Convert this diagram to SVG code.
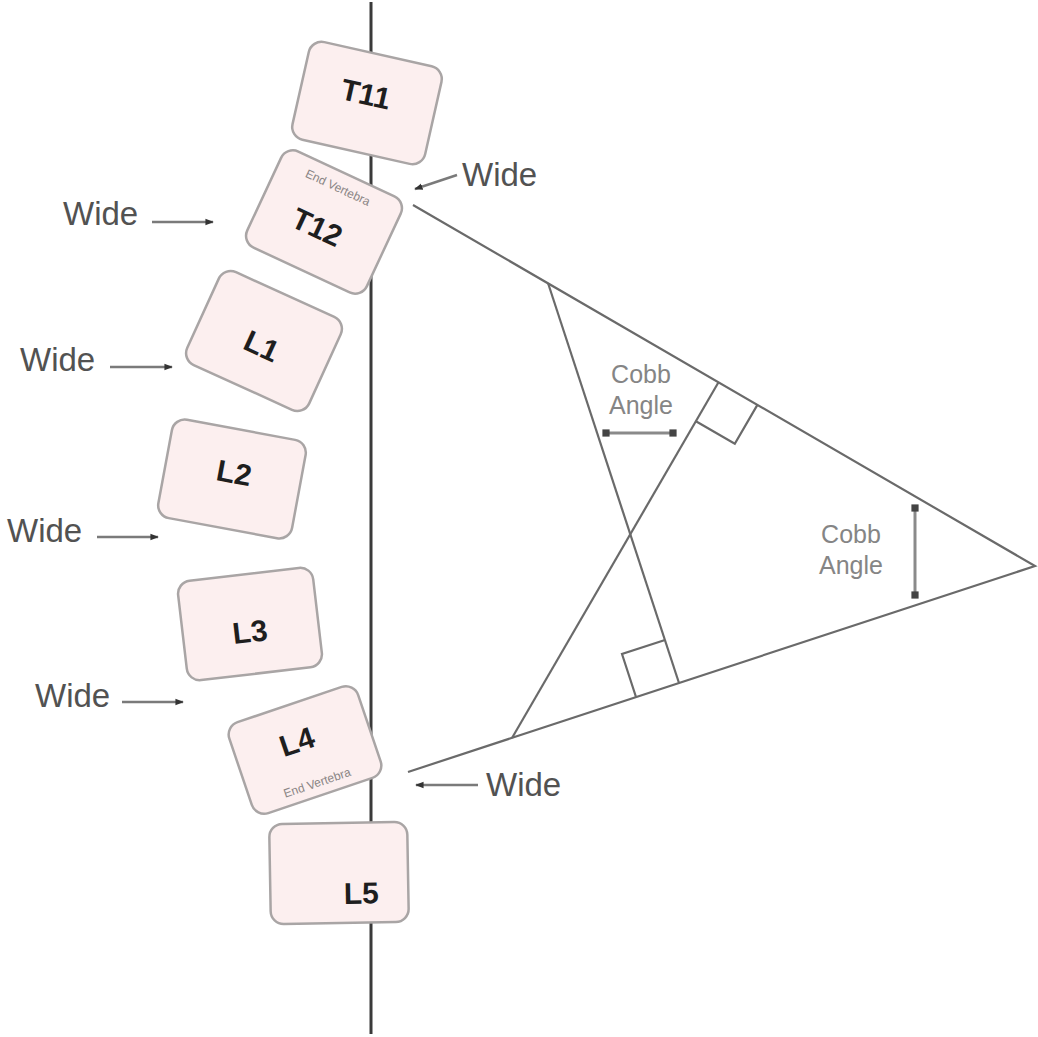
<svg xmlns="http://www.w3.org/2000/svg" width="1038" height="1037" viewBox="0 0 1038 1037">
  <style>
    .bone { fill: #fcefef; stroke: #a9a5a5; stroke-width: 2.5; }
    .lbl { font-family: "Liberation Sans", Arial, sans-serif; font-size: 30px; font-weight: bold; fill: #1e1e1e; text-anchor: middle; }
    .ev { font-family: "Liberation Sans", Arial, sans-serif; font-size: 12px; fill: #8a8585; text-anchor: middle; }
    .wide { font-family: "Liberation Sans", Arial, sans-serif; font-size: 33px; fill: #525252; }
    .cobb { font-family: "Liberation Sans", Arial, sans-serif; font-size: 25px; fill: #858585; text-anchor: middle; }
    .geo { stroke: #6a6a6a; stroke-width: 2.2; fill: none; }
    .ptr { stroke: #7a7a7a; stroke-width: 2.4; fill: none; marker-end: url(#head); }
    .dbl { stroke: #8a8a8a; stroke-width: 3; fill: none; marker-start: url(#tick); marker-end: url(#tick); }
  </style>
  <defs>
    <marker id="head" viewBox="0 0 10 10" refX="9" refY="5" markerWidth="3.5" markerHeight="3.5" orient="auto" markerUnits="strokeWidth">
      <path d="M0,1 L10,5 L0,9 Z" fill="#333"/>
    </marker>
    <marker id="tick" viewBox="0 0 10 10" refX="5" refY="5" markerWidth="2.4" markerHeight="3" orient="auto" markerUnits="strokeWidth">
      <rect x="0" y="0" width="10" height="10" fill="#444"/>
    </marker>
  </defs>

  <rect width="1038" height="1037" fill="#ffffff"/>

  <!-- spine axis -->
  <line x1="371" y1="2" x2="371" y2="1034" stroke="#3a3a3a" stroke-width="3"/>

  <!-- vertebrae -->
  <g id="t11" transform="translate(367,103) rotate(12.7)">
    <rect class="bone" x="-68" y="-50" width="136" height="100" rx="13"/>
    <text class="lbl" x="-3" y="2">T11</text>
  </g>
  <g id="t12" transform="translate(324,222) rotate(25)">
    <rect class="bone" x="-66" y="-53" width="132" height="106" rx="13"/>
    <text class="ev" x="-2" y="-33">End Vertebra</text>
    <text class="lbl" x="-4" y="18">T12</text>
  </g>
  <g id="l1" transform="translate(264,341) rotate(24.5)">
    <rect class="bone" x="-67" y="-51" width="134" height="102" rx="13"/>
    <text class="lbl" x="0" y="16">L1</text>
  </g>
  <g id="l2" transform="translate(232,479) rotate(10.5)">
    <rect class="bone" x="-68" y="-50" width="136" height="100" rx="13"/>
    <text class="lbl" x="1" y="4">L2</text>
  </g>
  <g id="l3" transform="translate(250,624) rotate(-6.7)">
    <rect class="bone" x="-68" y="-50" width="136" height="100" rx="13"/>
    <text class="lbl" x="-1" y="18">L3</text>
  </g>
  <g id="l4" transform="translate(305,750) rotate(-18.7)">
    <rect class="bone" x="-68" y="-48" width="136" height="96" rx="13"/>
    <text class="lbl" x="-5" y="0">L4</text>
    <text class="ev" x="1" y="39">End Vertebra</text>
  </g>
  <g id="l5" transform="translate(339,873) rotate(-1)">
    <rect class="bone" x="-69" y="-50" width="138" height="100" rx="13"/>
    <text class="lbl" x="22" y="31">L5</text>
  </g>

  <!-- end-plate lines, perpendiculars and right-angle marks -->
  <g id="connectors">
    <polyline class="geo" points="413,205 1035,566 408,772"/>
    <line class="geo" x1="548" y1="283" x2="679" y2="683"/>
    <line class="geo" x1="512" y1="738" x2="718.5" y2="382.3"/>
    <polyline class="geo" points="636,697 622,654 665,640"/>
    <polyline class="geo" points="757.4,404.9 734.8,443.8 695.9,421.2"/>

    <!-- angle indicators -->
    <line class="dbl" x1="606" y1="433" x2="673" y2="433"/>
    <line class="dbl" x1="915" y1="508" x2="915" y2="595"/>

    <!-- width pointers -->
    <line class="ptr" x1="152" y1="222" x2="213" y2="222"/>
    <line class="ptr" x1="110" y1="367" x2="172" y2="367"/>
    <line class="ptr" x1="97" y1="537" x2="158" y2="537"/>
    <line class="ptr" x1="122" y1="702" x2="183" y2="702"/>
    <line class="ptr" x1="457" y1="175" x2="415" y2="189"/>
    <line class="ptr" x1="478" y1="785" x2="416" y2="785"/>
  </g>

  <!-- annotations -->
  <g id="labels">
    <text class="wide" x="63" y="225">Wide</text>
    <text class="wide" x="20" y="371">Wide</text>
    <text class="wide" x="7" y="542">Wide</text>
    <text class="wide" x="35" y="707">Wide</text>
    <text class="wide" x="462" y="186">Wide</text>
    <text class="wide" x="486" y="796">Wide</text>
    <text class="cobb" x="641" y="383">Cobb</text>
    <text class="cobb" x="641" y="414">Angle</text>
    <text class="cobb" x="851" y="543">Cobb</text>
    <text class="cobb" x="851" y="574">Angle</text>
  </g>
</svg>
